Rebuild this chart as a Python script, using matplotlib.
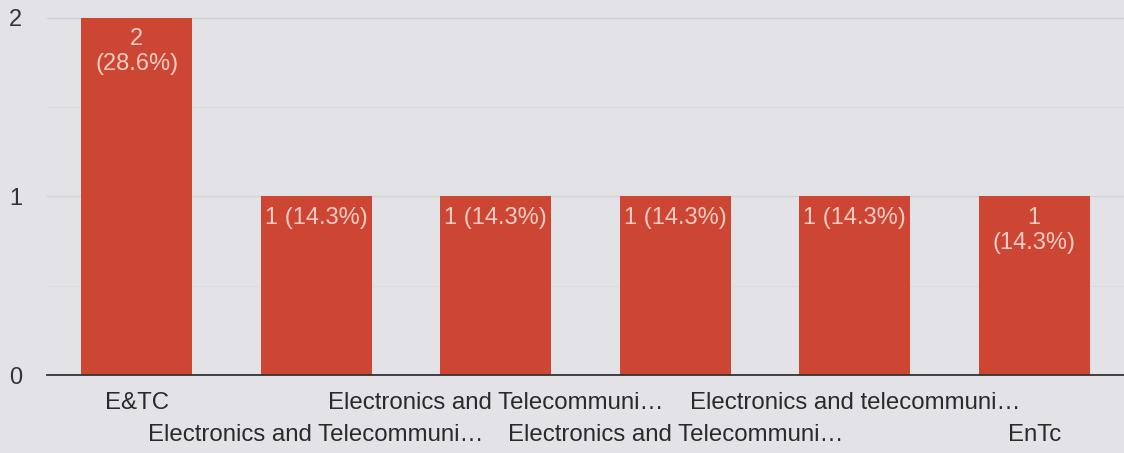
import matplotlib
matplotlib.use("Agg")
import matplotlib.pyplot as plt
import numpy as np

# ---- dati ----
categorie = ["E&TC",
             "Electronics and Telecommuni…",
             "Electronics and Telecommuni…",
             "Electronics and Telecommuni…",
             "Electronics and telecommuni…",
             "EnTc"]
valori = [2, 1, 1, 1, 1, 1]
etichette = ["2\n(28.6%)", "1 (14.3%)", "1 (14.3%)", "1 (14.3%)", "1 (14.3%)", "1\n(14.3%)"]
y_ticks = [0, 1, 2]

sfondo = "#e3e2e7"
rosso = "#cd4633"

plt.rcParams['font.family'] = ['Liberation Sans', 'DejaVu Sans']

fig = plt.figure(figsize=(11.24, 4.53), dpi=100, facecolor=sfondo)
ax = fig.add_axes([47 / 1124, 1 - 375 / 453, 1 - 47 / 1124, (375 - 14) / 453])
ax.set_facecolor(sfondo)

x = np.arange(len(categorie))
barre = ax.bar(x, valori, width=0.617, color=rosso, zorder=3)

ax.set_xlim(-0.5, len(categorie) - 0.5)
ax.set_ylim(0, 2.02)

# griglia
ax.set_yticks(y_ticks)
ax.set_yticks([0.5, 1.5], minor=True)
ax.yaxis.grid(True, which='major', color="#d2d1d6", linewidth=1, zorder=0)
ax.yaxis.grid(True, which='minor', color="#dcdbe0", linewidth=0.8, zorder=0)
ax.tick_params(axis='y', which='both', length=0, pad=18, labelsize=17, labelcolor="#333333")

for s in ["top", "right", "left"]:
    ax.spines[s].set_visible(False)
ax.spines["bottom"].set_color("#333333")
ax.spines["bottom"].set_linewidth(1.3)
ax.spines["bottom"].set_zorder(4)

# etichette asse x su due righe
ax.set_xticks(x)
ax.set_xticklabels([])
ax.tick_params(axis='x', length=0)
for i, nome in enumerate(categorie):
    off = -28 if i % 2 == 0 else -60
    ax.annotate(nome, xy=(i, 0), xycoords=('data', 'axes fraction'),
                xytext=(0, off * 0.72), textcoords='offset points',
                ha='center', va='center', fontsize=17.3, color="#2a2a2a")

# etichette dentro le barre
for b, lab in zip(barre, etichette):
    ax.annotate(lab, xy=(b.get_x() + b.get_width() / 2, b.get_height()),
                xytext=(0, -7.5), textcoords='offset points',
                ha='center', va='top', fontsize=17, color="#f2cbc3",
                linespacing=1.2, zorder=5)

fig.savefig("out.png", dpi=100, facecolor=sfondo)
